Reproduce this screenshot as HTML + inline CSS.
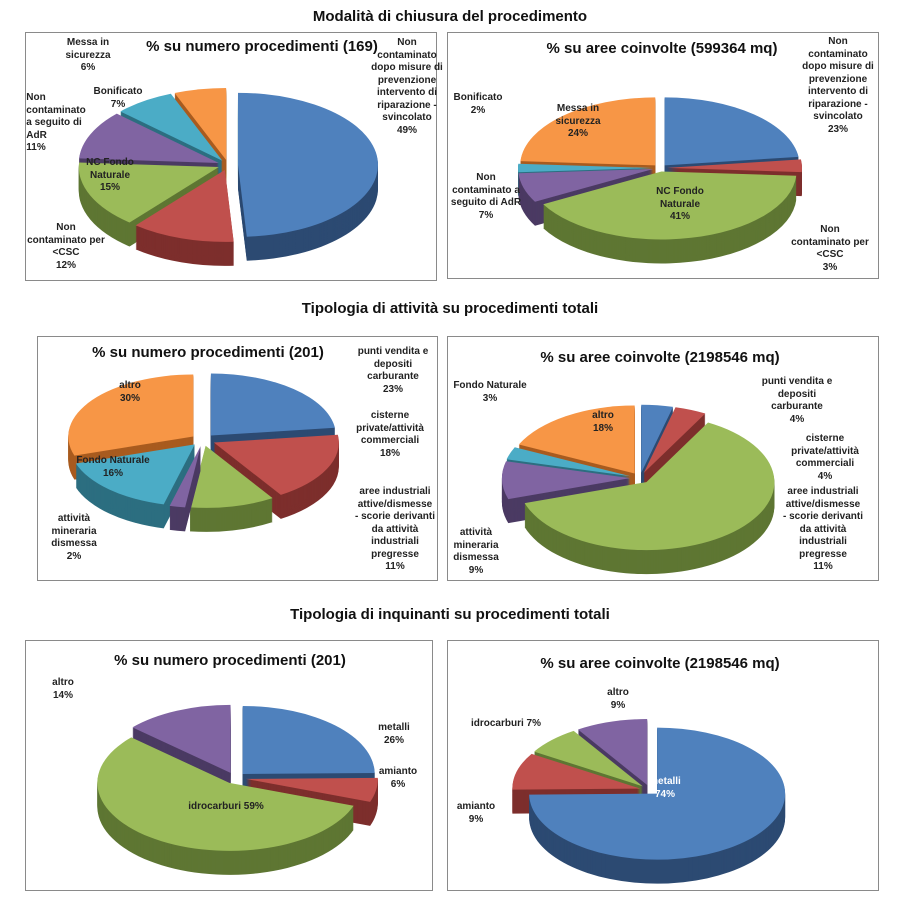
<!DOCTYPE html>
<html><head><meta charset="utf-8">
<style>
body{margin:0;background:#fff;font-family:"Liberation Sans",sans-serif;}
#wrap{position:relative;width:900px;height:911px;overflow:hidden;background:#fff;}
.sec{position:absolute;left:0;width:900px;text-align:center;font-weight:bold;font-size:15px;color:#111;}
.panel{position:absolute;border:1px solid #8a8a8a;background:#fff;box-sizing:border-box;}
.ttl{position:absolute;font-weight:bold;font-size:15px;color:#111;white-space:nowrap;transform:translateX(-50%);}
.lbl{position:absolute;font-weight:bold;font-size:10px;line-height:12.5px;color:#222;text-align:center;white-space:pre;transform:translateX(-50%);}
svg{position:absolute;left:0;top:0;}
</style></head><body>
<div id="wrap">
<div class="sec" style="top:8px">Modalità di chiusura del procedimento</div>
<div class="sec" style="top:300px">Tipologia di attività su procedimenti totali</div>
<div class="sec" style="top:606px">Tipologia di inquinanti su procedimenti totali</div>

<div class="panel" style="left:25px;top:32px;width:412px;height:249px"></div>
<div class="panel" style="left:447px;top:32px;width:432px;height:247px"></div>
<div class="panel" style="left:37px;top:336px;width:401px;height:245px"></div>
<div class="panel" style="left:447px;top:336px;width:432px;height:245px"></div>
<div class="panel" style="left:25px;top:640px;width:408px;height:251px"></div>
<div class="panel" style="left:447px;top:640px;width:432px;height:251px"></div>

<svg id="svg" width="900" height="911"></svg>

<div class="ttl" style="left:262px;top:38px">% su numero procedimenti (169)</div>
<div class="lbl" style="left:88px;top:37px">Messa in
sicurezza
6%</div>
<div class="lbl" style="left:407px;top:37px">Non
contaminato
dopo misure di
prevenzione
intervento di
riparazione -
svincolato
49%</div>
<div class="lbl" style="left:118px;top:86px">Bonificato
7%</div>
<div class="lbl" style="left:56px;top:92px;text-align:left">Non
contaminato
a seguito di
AdR
11%</div>
<div class="lbl" style="left:110px;top:157px">NC Fondo
Naturale
15%</div>
<div class="lbl" style="left:66px;top:222px">Non
contaminato per
&lt;CSC
12%</div>

<div class="ttl" style="left:662px;top:40px">% su aree coinvolte (599364 mq)</div>
<div class="lbl" style="left:838px;top:36px">Non
contaminato
dopo misure di
prevenzione
intervento di
riparazione -
svincolato
23%</div>
<div class="lbl" style="left:478px;top:92px">Bonificato
2%</div>
<div class="lbl" style="left:578px;top:103px">Messa in
sicurezza
24%</div>
<div class="lbl" style="left:680px;top:186px">NC Fondo
Naturale
41%</div>
<div class="lbl" style="left:486px;top:172px">Non
contaminato a
seguito di AdR
7%</div>
<div class="lbl" style="left:830px;top:224px">Non
contaminato per
&lt;CSC
3%</div>

<div class="ttl" style="left:208px;top:344px">% su numero procedimenti (201)</div>
<div class="lbl" style="left:393px;top:346px">punti vendita e
depositi
carburante
23%</div>
<div class="lbl" style="left:130px;top:380px">altro
30%</div>
<div class="lbl" style="left:390px;top:410px">cisterne
private/attività
commerciali
18%</div>
<div class="lbl" style="left:113px;top:455px">Fondo Naturale
16%</div>
<div class="lbl" style="left:395px;top:486px">aree industriali
attive/dismesse
- scorie derivanti
da attività
industriali
pregresse
11%</div>
<div class="lbl" style="left:74px;top:513px">attività
mineraria
dismessa
2%</div>

<div class="ttl" style="left:660px;top:349px">% su aree coinvolte (2198546 mq)</div>
<div class="lbl" style="left:490px;top:380px">Fondo Naturale
3%</div>
<div class="lbl" style="left:603px;top:410px">altro
18%</div>
<div class="lbl" style="left:797px;top:376px">punti vendita e
depositi
carburante
4%</div>
<div class="lbl" style="left:825px;top:433px">cisterne
private/attività
commerciali
4%</div>
<div class="lbl" style="left:823px;top:486px">aree industriali
attive/dismesse
- scorie derivanti
da attività
industriali
pregresse
11%</div>
<div class="lbl" style="left:476px;top:527px">attività
mineraria
dismessa
9%</div>

<div class="ttl" style="left:230px;top:652px">% su numero procedimenti (201)</div>
<div class="lbl" style="left:63px;top:677px">altro
14%</div>
<div class="lbl" style="left:394px;top:722px">metalli
26%</div>
<div class="lbl" style="left:398px;top:766px">amianto
6%</div>
<div class="lbl" style="left:226px;top:801px">idrocarburi 59%</div>

<div class="ttl" style="left:660px;top:655px">% su aree coinvolte (2198546 mq)</div>
<div class="lbl" style="left:618px;top:687px">altro
9%</div>
<div class="lbl" style="left:506px;top:718px">idrocarburi 7%</div>
<div class="lbl" style="left:665px;top:776px;color:#fff">metalli
74%</div>
<div class="lbl" style="left:476px;top:801px">amianto
9%</div>
</div>
<script>
// data arrays (clockwise from 12 o'clock)
const catA = ["svincolato","CSC","NC Fondo Naturale","AdR","Bonificato","Messa in sicurezza"];
const valA = [49,12,15,11,7,6];
const catB = ["svincolato","CSC","NC Fondo Naturale","AdR","Bonificato","Messa in sicurezza"];
const valB = [23,3,41,7,2,24];
const catC = ["punti vendita","cisterne","aree industriali","mineraria","Fondo Naturale","altro"];
const valC = [23,18,11,2,16,30];
const catD = ["punti vendita","cisterne","aree industriali","mineraria","Fondo Naturale","altro"];
const valD = [4,4,62,9,3,18];
const catE = ["metalli","amianto","idrocarburi","altro"];
const valE = [26,6,59,14];
const catF = ["metalli","amianto","idrocarburi","altro"];
const valF = [74,9,7,9];

const TOP = ["#4F81BD","#C0504D","#9BBB59","#8064A2","#4BACC6","#F79646"];
const SIDE = ["#2C4A72","#7D2E2C","#5E7633","#4B3A63","#2C6E80","#A85B1F"];
const colE = [0,1,2,3];
const NS="http://www.w3.org/2000/svg";
const svg=document.getElementById('svg');

function slicePath(cx,cy,rx,ry,a0,a1){
  const x0=cx+rx*Math.cos(a0),y0=cy+ry*Math.sin(a0);
  const x1=cx+rx*Math.cos(a1),y1=cy+ry*Math.sin(a1);
  const large=(a1-a0)>Math.PI?1:0;
  return `M${cx},${cy}L${x0},${y0}A${rx},${ry} 0 ${large} 1 ${x1},${y1}Z`;
}
function drawPie(name,cats,vals,cfg,colors){
  const g=document.createElementNS(NS,'g');
  
  
  svg.appendChild(g);
  const tot=vals.reduce((a,b)=>a+b,0);
  let a=-Math.PI/2+(cfg.rot||0);
  const sl=[];
  vals.forEach((v,i)=>{const s=a,e=a+v/tot*2*Math.PI;a=e;sl.push({i,s,e,m:(s+e)/2});});
  sl.sort((p,q)=>Math.sin(p.m)-Math.sin(q.m));
  sl.forEach(o=>{
    const ex=cfg.ex*Math.cos(o.m), ey=cfg.ex*(cfg.ry/cfg.rx)*Math.sin(o.m);
    const cx=cfg.cx+ex, cy=cfg.cy+ey;
    const ci=colors?colors[o.i]:o.i;
    for(let d=cfg.depth;d>0;d-=1){
      const p=document.createElementNS(NS,'path');
      p.setAttribute('d',slicePath(cx,cy+d,cfg.rx,cfg.ry,o.s,o.e));
      p.setAttribute('fill',SIDE[ci]);
      
      
      g.appendChild(p);
    }
    const t=document.createElementNS(NS,'path');
    t.setAttribute('d',slicePath(cx,cy,cfg.rx,cfg.ry,o.s,o.e));
    t.setAttribute('fill',TOP[ci]);
    
    
    g.appendChild(t);
  });
}
drawPie('pie-chiusura-numero',catA,valA,{cx:228,cy:165,rx:140,ry:72,depth:24,ex:10});
drawPie('pie-chiusura-aree',catB,valB,{cx:660,cy:168,rx:135,ry:68,depth:24,ex:7});
drawPie('pie-attivita-numero',catC,valC,{cx:203,cy:440,rx:125,ry:62,depth:24,ex:12});
drawPie('pie-attivita-aree',catD,valD,{cx:640,cy:478,rx:128,ry:68,depth:24,ex:10});
drawPie('pie-inquinanti-numero',catE,valE,{cx:235,cy:778,rx:132,ry:68,depth:24,ex:11},colE);
drawPie('pie-inquinanti-aree',catF,valF,{cx:650,cy:790,rx:128,ry:66,depth:24,ex:10},colE);
</script>
</body></html>
